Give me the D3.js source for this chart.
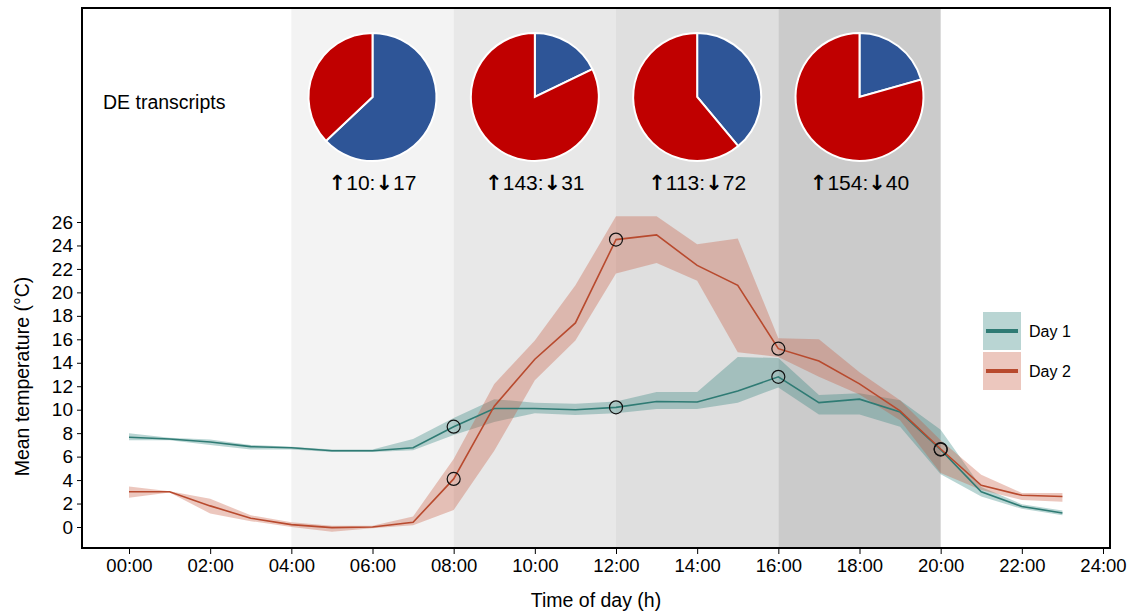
<!DOCTYPE html>
<html>
<head>
<meta charset="utf-8">
<script src="https://cdn.jsdelivr.net/npm/d3@7"></script>
<style>
  body { margin: 0; background: #fff; }
  svg { display: block; font-family: "Liberation Sans", Arial, sans-serif; }
</style>
</head>
<body>
<svg id="chart" width="1134" height="614"></svg>
<script>
// hours of the day, 00:00 .. 23:00
const hours = d3.range(0, 24);
// Day 1 (teal) mean temperature and ribbon bounds
const day1Mean = [7.65, 7.5, 7.25, 6.85, 6.75, 6.5, 6.5, 6.75, 8.55, 10.1, 10.1, 10.0, 10.2, 10.7, 10.65, 11.6, 12.8, 10.6, 10.9, 9.8, 6.6, 3.0, 1.75, 1.2];
const day1Lo   = [7.4, 7.4, 7.0, 6.6, 6.6, 6.4, 6.4, 6.55, 7.85, 8.95, 9.7, 9.55, 9.7, 10.05, 10.05, 10.6, 11.9, 9.6, 9.6, 8.55, 4.5, 2.6, 1.55, 1.0];
const day1Hi   = [8.0, 7.6, 7.45, 7.0, 6.85, 6.6, 6.6, 7.5, 9.3, 10.9, 10.6, 10.5, 10.7, 11.5, 11.5, 14.5, 14.4, 11.25, 11.4, 10.8, 8.3, 3.4, 1.95, 1.4];
// Day 2 (red)
const day2Mean = [3.0, 3.0, 1.8, 0.75, 0.2, -0.05, 0.0, 0.4, 4.1, 10.3, 14.3, 17.4, 24.5, 24.9, 22.3, 20.6, 15.2, 14.15, 12.2, 9.9, 6.65, 3.55, 2.7, 2.6];
const day2Lo   = [2.5, 2.95, 1.15, 0.5, 0.0, -0.4, -0.1, 0.15, 1.45, 6.5, 12.5, 15.9, 21.6, 22.5, 21.0, 14.9, 14.5, 12.8, 11.3, 9.1, 4.6, 3.15, 2.3, 2.15];
const day2Hi   = [3.45, 3.05, 2.4, 1.0, 0.4, 0.1, 0.1, 0.9, 5.8, 12.2, 15.9, 20.6, 26.5, 26.5, 24.1, 24.6, 16.1, 16.0, 13.2, 10.8, 7.4, 4.45, 2.9, 2.9];
// sampling times marked with circles
const sampleHours = [8, 12, 16, 20];
// shaded windows and their DE transcript counts
const windowStart = [4, 8, 12, 16];
const windowEnd   = [8, 12, 16, 20];
const windowFill  = ['#f3f3f3', '#e8e8e8', '#dfdfdf', '#cbcbcb'];
const upCounts    = [10, 143, 113, 154];
const downCounts  = [17, 31, 72, 40];
const xTicks = d3.range(0, 25, 2);
const yTicks = d3.range(0, 27, 2);
const seriesNames = ['Day 1', 'Day 2'];

const svg = d3.select('#chart');
const box = { left: 82, top: 8, right: 1110, bottom: 548 };
const x = d3.scaleLinear([0, 24], [129, 1103]);
const y = d3.scaleLinear([0, 26], [527, 222]);

const colors = {
  line: ['#2f7b74', '#b84a2e'],
  ribbon: ['#2a7f78', '#c4553a'],
  up: '#c00000',
  down: '#2e5597'
};

// background windows
svg.append('g').selectAll('rect')
  .data(windowStart)
  .join('rect')
  .attr('x', (d) => x(d))
  .attr('y', box.top)
  .attr('width', (d, i) => x(windowEnd[i]) - x(d))
  .attr('height', box.bottom - box.top)
  .attr('fill', (d, i) => windowFill[i]);

// ribbons + lines
const series = [
  { mean: day1Mean, lo: day1Lo, hi: day1Hi },
  { mean: day2Mean, lo: day2Lo, hi: day2Hi }
];
const area = d3.area()
  .x((d) => x(d.h))
  .y0((d) => y(d.lo))
  .y1((d) => y(d.hi));
const line = d3.line()
  .x((d) => x(d.h))
  .y((d) => y(d.v));

const plotG = svg.append('g');
series.forEach((s, i) => {
  plotG.append('path')
    .datum(hours.map((h, k) => ({ h, lo: s.lo[k], hi: s.hi[k] })))
    .attr('d', area)
    .attr('fill', colors.ribbon[i])
    .attr('fill-opacity', 0.33);
});
series.forEach((s, i) => {
  plotG.append('path')
    .datum(hours.map((h, k) => ({ h, v: s.mean[k] })))
    .attr('d', line)
    .attr('fill', 'none')
    .attr('stroke', colors.line[i])
    .attr('stroke-width', 1.6);
});
series.forEach((s) => {
  plotG.append('g').selectAll('circle')
    .data(sampleHours)
    .join('circle')
    .attr('cx', (h) => x(h))
    .attr('cy', (h) => y(s.mean[h]))
    .attr('r', 6.5)
    .attr('fill', 'none')
    .attr('stroke', '#111')
    .attr('stroke-width', 1.2);
});

// pies
const pie = d3.pie().sort(null).value((d) => d.v);
const arc = d3.arc().innerRadius(0).outerRadius(64);
const pieG = svg.append('g');
windowStart.forEach((w, i) => {
  const cx = x((w + windowEnd[i]) / 2);
  const g = pieG.append('g').attr('transform', `translate(${cx},97)`);
  g.selectAll('path')
    .data(pie([{ v: downCounts[i], c: colors.down }, { v: upCounts[i], c: colors.up }]))
    .join('path')
    .attr('d', arc)
    .attr('fill', (d) => d.data.c)
    .attr('stroke', '#fff')
    .attr('stroke-width', 2);
  const label = pieG.append('text')
    .attr('x', cx)
    .attr('y', 190)
    .attr('text-anchor', 'middle')
    .attr('font-size', 21)
    .attr('fill', '#000');
  label.append('tspan').attr('font-family', 'DejaVu Sans').attr('font-weight', 'bold').text('\u2191');
  label.append('tspan').text(`${upCounts[i]}:`);
  label.append('tspan').attr('font-family', 'DejaVu Sans').attr('font-weight', 'bold').text('\u2193');
  label.append('tspan').text(`${downCounts[i]}`);
});

svg.append('text')
  .attr('x', 103).attr('y', 109)
  .attr('font-size', 19.5)
  .text('DE transcripts');

// axes
const xAxis = svg.append('g')
  .attr('transform', `translate(0,${box.bottom})`)
  .call(d3.axisBottom(x).tickValues(xTicks).tickSize(6).tickPadding(5)
    .tickFormat((h) => String(h).padStart(2, '0') + ':00'));
xAxis.select('.domain').remove();
xAxis.selectAll('text').attr('font-size', 18.5).attr('fill', '#000').attr('font-family', null);
xAxis.selectAll('line').attr('stroke', '#000');

const yAxis = svg.append('g')
  .attr('transform', `translate(${box.left},0)`)
  .call(d3.axisLeft(y).tickValues(yTicks).tickSize(5).tickPadding(4));
yAxis.select('.domain').remove();
yAxis.selectAll('text').attr('font-size', 19).attr('fill', '#000').attr('font-family', null);
yAxis.selectAll('line').attr('stroke', '#000');

svg.append('text')
  .attr('x', 596).attr('y', 607)
  .attr('text-anchor', 'middle')
  .attr('font-size', 19.5)
  .text('Time of day (h)');

svg.append('text')
  .attr('transform', `translate(29,${(y(0) + y(26)) / 2 + 2}) rotate(-90)`)
  .attr('text-anchor', 'middle')
  .attr('font-size', 19.5)
  .text('Mean temperature (°C)');

// panel border
svg.append('rect')
  .attr('x', box.left).attr('y', box.top)
  .attr('width', box.right - box.left).attr('height', box.bottom - box.top)
  .attr('fill', 'none')
  .attr('stroke', '#000')
  .attr('stroke-width', 2);

// legend
const legend = svg.append('g').attr('transform', 'translate(983,312)');
const item = legend.selectAll('g')
  .data(seriesNames)
  .join('g')
  .attr('transform', (d, i) => `translate(0,${i * 40})`);
item.append('rect')
  .attr('width', 38).attr('height', 38)
  .attr('fill', (d, i) => colors.ribbon[i])
  .attr('fill-opacity', 0.33);
item.append('line')
  .attr('x1', 3).attr('x2', 35)
  .attr('y1', 19).attr('y2', 19)
  .attr('stroke', (d, i) => colors.line[i])
  .attr('stroke-width', 4);
item.append('text')
  .attr('x', 46).attr('y', 19)
  .attr('dy', '0.35em')
  .attr('font-size', 16)
  .text((d) => d);
</script>
</body>
</html>
